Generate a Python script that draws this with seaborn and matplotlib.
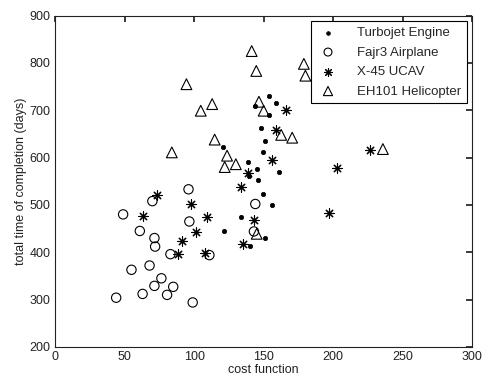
import matplotlib
matplotlib.use("Agg")
import matplotlib.pyplot as plt
import seaborn as sns
import pandas as pd

# Valores (cost function, tempo total em dias)
turbojet_x = [153.8, 159, 144, 154, 148, 151, 149.6, 139, 145, 139.4, 161, 146,
              149.5, 156, 134, 151, 140, 121.5, 121]
turbojet_y = [730, 715, 708, 689, 662, 635, 611, 590, 576, 562, 569, 552,
              524, 499, 474, 431, 414, 445, 623]

fajr3_x = [44, 49, 55, 61, 63, 68, 70, 71.5, 72, 71.5, 76.5, 80.6, 83, 85,
           96, 96.6, 99, 111, 144, 143]
fajr3_y = [304, 480, 363, 445, 312, 372, 508, 430, 412, 329, 345, 310, 396, 327,
           533, 465, 294, 394, 502, 444]

x45_x = [73.7, 63.4, 98, 109, 101.6, 91.6, 88.7, 107.7, 134, 143, 135, 197,
         166.4, 159, 156, 138.5, 226.6, 203]
x45_y = [521, 477, 501, 474, 442, 423, 397, 399, 538, 469, 417, 483,
         701, 659, 595, 568, 616, 578]

eh101_x = [141.4, 144.7, 94.5, 104.8, 113, 114.8, 84, 123.7, 122, 130,
           178.9, 180, 146.6, 150, 162.6, 170.5, 235.7, 145]
eh101_y = [825, 783, 755, 699, 713, 638, 611, 604, 580, 586,
           798, 773, 718, 699, 648, 642, 618, 439]

SERIES = ["Turbojet Engine", "Fajr3 Airplane", "X-45 UCAV", "EH101 Helicopter"]


def montar_tabela():
    partes = []
    for nome, xs, ys in zip(SERIES,
                            [turbojet_x, fajr3_x, x45_x, eh101_x],
                            [turbojet_y, fajr3_y, x45_y, eh101_y]):
        partes.append(pd.DataFrame({"cost": xs, "tempo": ys, "serie": nome}))
    return pd.concat(partes, ignore_index=True)


def grafico():
    sns.set_theme(style="white")
    plt.rcParams["font.family"] = ["Liberation Sans", "DejaVu Sans"]

    df = montar_tabela()

    fig = plt.figure(figsize=(4.82, 3.80), dpi=100)
    ax = fig.add_axes([0.114, 0.087, 0.866, 0.872])

    estilos = {
        "Turbojet Engine": dict(marker="o", s=10, color="black", edgecolor="black", linewidth=0.5),
        "Fajr3 Airplane": dict(marker="o", s=45, facecolors="none", edgecolor="black", linewidth=0.8),
        "X-45 UCAV": dict(marker=(8, 2, 0), s=45, color="black", linewidth=0.8),
        "EH101 Helicopter": dict(marker="^", s=60, facecolors="none", edgecolor="black", linewidth=0.8),
    }

    for nome in SERIES:
        sub = df[df["serie"] == nome]
        sns.scatterplot(data=sub, x="cost", y="tempo", ax=ax, label=nome, **estilos[nome])

    ax.set_xlim(0, 300)
    ax.set_ylim(200, 900)
    ax.set_xticks(range(0, 301, 50))
    ax.set_yticks(range(200, 901, 100))
    ax.tick_params(direction="in", length=4, top=True, right=True,
                   labelsize=9, colors="#222222", pad=3)
    for lado in ax.spines.values():
        lado.set_color("#222222")
        lado.set_linewidth(0.8)

    ax.set_xlabel("cost function", fontsize=9, labelpad=1, color="#222222")
    ax.set_ylabel("total time of completion (days)", fontsize=9, labelpad=2, color="#222222")

    leg = ax.legend(loc="upper right", fontsize=9.5, frameon=True, fancybox=False,
                    edgecolor="black", framealpha=1, borderaxespad=0.4,
                    handletextpad=1.4, labelspacing=0.55, borderpad=0.45,
                    handlelength=1.6, markerscale=0.85)
    leg.get_frame().set_linewidth(0.8)

    fig.savefig("out.png", dpi=100)
    plt.close(fig)


if __name__ == "__main__":
    grafico()
